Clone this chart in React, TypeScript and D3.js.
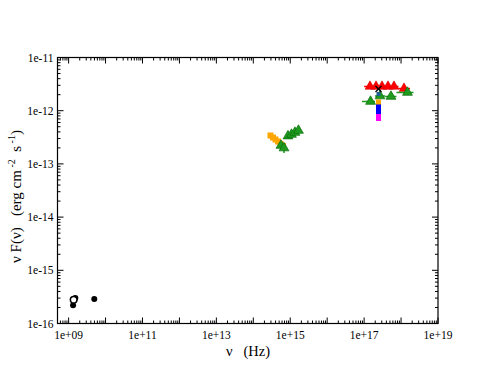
import React from "react";
import * as d3 from "d3";

const W = 494, H = 382;
const M = { left: 57.5, right: 438, top: 57.5, bottom: 323.5 };

const xDomain = [5e8, 1e19];
const yDomain = [1e-16, 1e-11];
const xTickLabels = ["1e+09", "1e+11", "1e+13", "1e+15", "1e+17", "1e+19"];
const yTickLabels = ["1e-16", "1e-15", "1e-14", "1e-13", "1e-12", "1e-11"];

// radio
const radioFilled = [
  { x: 1.32e9, y: 2.2e-16 },
  { x: 1.52e9, y: 3.0e-16 },
  { x: 4.95e9, y: 2.9e-16 },
];
const radioOpen = [{ x: 1.37e9, y: 2.8e-16 }];

// optical / UV
const opticalOrange = [
  { x: 2.92e14, y: 3.42e-13 },
  { x: 3.41e14, y: 3.13e-13 },
  { x: 3.98e14, y: 2.88e-13 },
  { x: 4.66e14, y: 2.64e-13 },
  { x: 5.44e14, y: 2.37e-13 },
  { x: 6.36e14, y: 2.17e-13 },
];
const uvGreen = [
  { x: 5.61e14, y: 2.22e-13, ylo: 2.22e-13, yhi: 2.22e-13 },
  { x: 6.77e14, y: 1.99e-13, ylo: 1.6e-13, yhi: 2.4e-13 },
  { x: 8.68e14, y: 3.34e-13, ylo: 3.34e-13, yhi: 3.34e-13 },
  { x: 1.08e15, y: 3.57e-13, ylo: 3.57e-13, yhi: 3.57e-13 },
  { x: 1.34e15, y: 3.89e-13, ylo: 3.89e-13, yhi: 3.89e-13 },
  { x: 1.67e15, y: 4.25e-13, ylo: 4.25e-13, yhi: 4.25e-13 },
];

// X-ray
const xrayRed = [
  { x: 1.44e17, y: 2.85e-12, xlo: 1.0e17, xhi: 1.75e17 },
  { x: 2.1e17, y: 2.85e-12, xlo: 1.75e17, xhi: 2.5e17 },
  { x: 3.05e17, y: 2.85e-12, xlo: 2.5e17, xhi: 3.7e17 },
  { x: 4.43e17, y: 2.85e-12, xlo: 3.7e17, xhi: 5.3e17 },
  { x: 6.44e17, y: 2.85e-12, xlo: 5.3e17, xhi: 8.5e17 },
  { x: 1.2e18, y: 2.61e-12, xlo: 8.5e17, xhi: 1.75e18 },
];
const xrayGreen = [
  { x: 1.49e17, y: 1.49e-12, xlo: 8.75e16, xhi: 1.97e17 },
  { x: 2.69e17, y: 1.89e-12, xlo: 1.97e17, xhi: 3.7e17 },
  { x: 5.33e17, y: 1.85e-12, xlo: 3.7e17, xhi: 7.5e17 },
  { x: 1.49e18, y: 2.2e-12, xlo: 7.5e17, xhi: 2.17e18 },
];
const xrayCross = [{ x: 2.45e17, y: 2.56e-12 }];
const xrayTeal = [{ x: 2.45e17, y: 2.06e-12 }];
const xrayOrange = [{ x: 2.45e17, y: 1.46e-12 }];
const xrayBlue = [
  { x: 2.45e17, y: 1.25e-12 },
  { x: 2.45e17, y: 1.1e-12 },
  { x: 2.45e17, y: 0.966e-12 },
];
const xrayMagenta = [
  { x: 2.45e17, y: 8.3e-13 },
  { x: 2.45e17, y: 7.13e-13 },
];

const FONT = "'Liberation Serif', 'Times New Roman', serif";

export default function App() {
  const x = d3.scaleLog().domain(xDomain).range([M.left, M.right]);
  const y = d3.scaleLog().domain(yDomain).range([M.bottom, M.top]);

  const xMajors: number[] = [];
  const xMinors: number[] = [];
  for (let e = 8; e <= 19; e++) {
    for (let m = 1; m <= 9; m++) {
      const v = m * Math.pow(10, e);
      if (v < xDomain[0] * 0.999 || v > xDomain[1] * 1.001) continue;
      if (m === 1) xMajors.push(v);
      else xMinors.push(v);
    }
  }
  const yMajors: number[] = [];
  const yMinors: number[] = [];
  for (let e = -16; e <= -11; e++) {
    for (let m = 1; m <= 9; m++) {
      const v = m * Math.pow(10, e);
      if (v < yDomain[0] * 0.999 || v > yDomain[1] * 1.001) continue;
      if (m === 1) yMajors.push(v);
      else yMinors.push(v);
    }
  }

  const tri = d3.symbol().type(d3.symbolTriangle).size(42)();
  const sq = 6;

  const greenFill = "#1f9a1f";
  const greenStroke = "#0b6e0b";

  return (
    <svg width={W} height={H} style={{ position: "absolute", left: 0, top: 0, background: "#fff" }}>
      <rect x={0} y={0} width={W} height={H} fill="#fff" />
      {/* ticks */}
      <g stroke="#000" strokeWidth={1}>
        {xMajors.map((v, i) => (
          <g key={"xM" + i}>
            <line x1={x(v)} x2={x(v)} y1={M.bottom} y2={M.bottom - 6} />
            <line x1={x(v)} x2={x(v)} y1={M.top} y2={M.top + 6} />
          </g>
        ))}
        {xMinors.map((v, i) => (
          <g key={"xm" + i}>
            <line x1={x(v)} x2={x(v)} y1={M.bottom} y2={M.bottom - 3} />
            <line x1={x(v)} x2={x(v)} y1={M.top} y2={M.top + 3} />
          </g>
        ))}
        {yMajors.map((v, i) => (
          <g key={"yM" + i}>
            <line x1={M.left} x2={M.left + 6} y1={y(v)} y2={y(v)} />
            <line x1={M.right} x2={M.right - 6} y1={y(v)} y2={y(v)} />
          </g>
        ))}
        {yMinors.map((v, i) => (
          <g key={"ym" + i}>
            <line x1={M.left} x2={M.left + 3} y1={y(v)} y2={y(v)} />
            <line x1={M.right} x2={M.right - 3} y1={y(v)} y2={y(v)} />
          </g>
        ))}
      </g>
      <rect x={M.left} y={M.top} width={M.right - M.left} height={M.bottom - M.top} fill="none" stroke="#000" strokeWidth={1.2} />

      {/* tick labels */}
      <g fontFamily={FONT} fontSize={11.5} fill="#000">
        {xTickLabels.map((t) => (
          <text key={t} x={x(+t)} y={M.bottom + 15} textAnchor="middle">{t}</text>
        ))}
        {yTickLabels.map((t) => (
          <text key={t} x={M.left - 4} y={y(+t) + 4} textAnchor="end">{t}</text>
        ))}
      </g>

      {/* axis titles */}
      <text x={248} y={356} fontFamily={FONT} fontSize={14.5} textAnchor="middle" xmlSpace="preserve">
        {"ν   (Hz)"}
      </text>
      <text transform={`translate(21,${(M.top + M.bottom) / 2 + 6}) rotate(-90)`} fontFamily={FONT} fontSize={15} textAnchor="middle" xmlSpace="preserve">
        {"ν F(ν)   (erg cm"}
        <tspan fontSize={10} dy={-6}>{" -2"}</tspan>
        <tspan dy={6}>{"  s"}</tspan>
        <tspan fontSize={10} dy={-6}>{" -1"}</tspan>
        <tspan dy={6}>{")"}</tspan>
      </text>

      {/* radio */}
      {radioFilled.map((d, i) => (
        <circle key={"rf" + i} cx={x(d.x)} cy={y(d.y)} r={3} fill="#000" />
      ))}
      {radioOpen.map((d, i) => (
        <circle key={"ro" + i} cx={x(d.x)} cy={y(d.y)} r={3.3} fill="#fff" stroke="#000" strokeWidth={1.5} />
      ))}

      {/* optical orange */}
      {opticalOrange.map((d, i) => (
        <rect key={"oo" + i} x={x(d.x) - sq / 2} y={y(d.y) - sq / 2} width={sq} height={sq} fill="#ffa500" />
      ))}
      {/* UV green */}
      {uvGreen.map((d, i) => (
        <g key={"ug" + i}>
          <line x1={x(d.x)} x2={x(d.x)} y1={y(d.ylo)} y2={y(d.yhi)} stroke={greenFill} strokeWidth={1.5} />
          <path d={tri!} transform={`translate(${x(d.x)},${y(d.y)})`} fill={greenFill} stroke={greenStroke} strokeWidth={0.7} />
        </g>
      ))}

      {/* X-ray red */}
      {xrayRed.map((d, i) => (
        <line key={"rl" + i} x1={x(d.xlo)} x2={x(d.xhi)} y1={y(d.y)} y2={y(d.y)} stroke="#ff0000" strokeWidth={1.5} />
      ))}
      {xrayRed.map((d, i) => (
        <path key={"rt" + i} d={tri!} transform={`translate(${x(d.x)},${y(d.y)})`} fill="#ff0000" stroke="#cc0000" strokeWidth={0.5} />
      ))}
      {/* X-ray green */}
      {xrayGreen.map((d, i) => (
        <line key={"gl" + i} x1={x(d.xlo)} x2={x(d.xhi)} y1={y(d.y)} y2={y(d.y)} stroke={greenFill} strokeWidth={1.5} />
      ))}
      {xrayGreen.map((d, i) => (
        <path key={"gt" + i} d={tri!} transform={`translate(${x(d.x)},${y(d.y)})`} fill={greenFill} stroke={greenStroke} strokeWidth={0.7} />
      ))}
      {/* vertical stack */}
      {xrayMagenta.map((d, i) => (
        <rect key={"xm" + i} x={x(d.x) - 2.5} y={y(d.y) - 2.5} width={5} height={5} fill="#ff00ff" />
      ))}
      {xrayBlue.map((d, i) => (
        <rect key={"xb" + i} x={x(d.x) - 2.5} y={y(d.y) - 2.5} width={5} height={5} fill="#0000ff" />
      ))}
      {xrayOrange.map((d, i) => (
        <rect key={"xo" + i} x={x(d.x) - 2.5} y={y(d.y) - 2.5} width={5} height={5} fill="#ffa500" />
      ))}
      {xrayTeal.map((d, i) => (
        <rect key={"xt" + i} x={x(d.x) - 2} y={y(d.y) - 2} width={4} height={4} fill="#1f5f8f" />
      ))}
      {xrayCross.map((d, i) => (
        <g key={"xc" + i} stroke="#000" strokeWidth={1.2}>
          <line x1={x(d.x) - 3} x2={x(d.x) + 3} y1={y(d.y) - 3} y2={y(d.y) + 3} />
          <line x1={x(d.x) - 3} x2={x(d.x) + 3} y1={y(d.y) + 3} y2={y(d.y) - 3} />
        </g>
      ))}
    </svg>
  );
}
